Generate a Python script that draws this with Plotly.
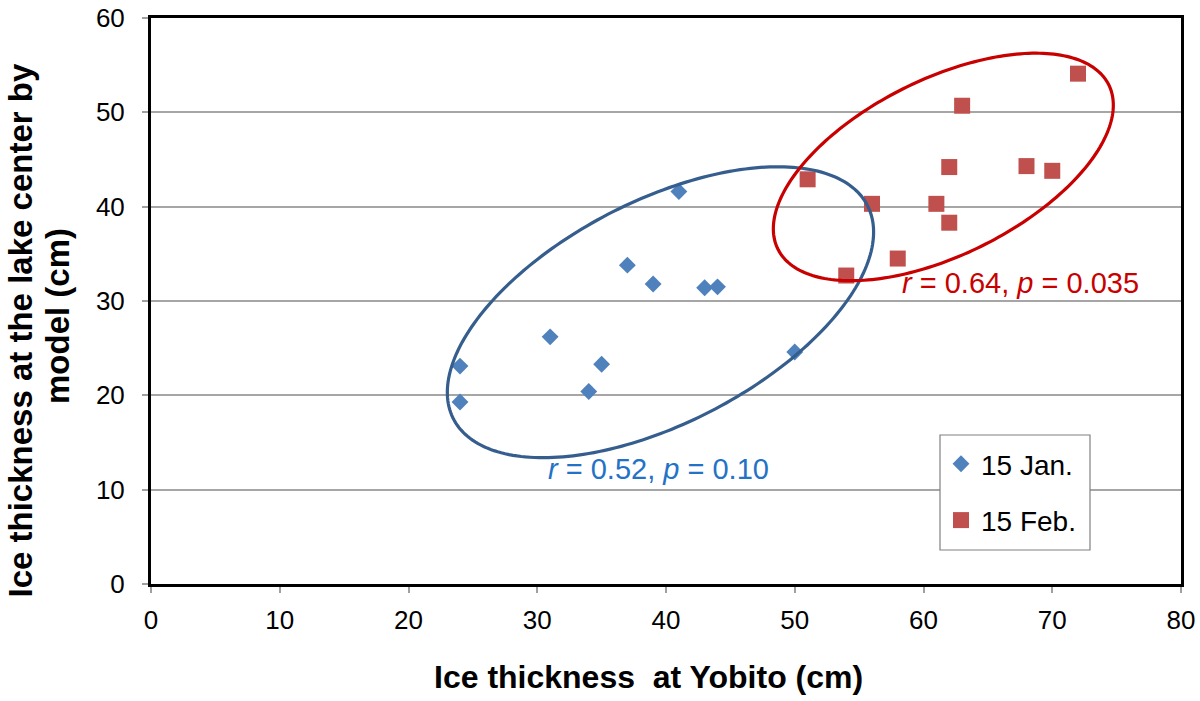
import numpy as np
import plotly.graph_objects as go

# ---- data ----
jan_x = [24, 24, 31, 34, 35, 37, 39, 41, 43, 44, 50]
jan_y = [23.1, 19.3, 26.2, 20.4, 23.3, 33.8, 31.8, 41.6, 31.4, 31.5, 24.6]
feb_x = [51, 54, 56, 58, 61, 62, 62, 63, 68, 70, 72]
feb_y = [42.9, 32.7, 40.3, 34.5, 40.3, 44.2, 38.3, 50.7, 44.3, 43.8, 54.1]
series_names = ["15 Jan.", "15 Feb."]
x_ticks = [0, 10, 20, 30, 40, 50, 60, 70, 80]
y_ticks = [0, 10, 20, 30, 40, 50, 60]
x_title = "Ice thickness  at Yobito (cm)"
y_title_1 = "Ice thickness at the lake center by"
y_title_2 = "model (cm)"
jan_label = "<i>r</i> = 0.52, <i>p</i> = 0.10"
feb_label = "<i>r</i> = 0.64, <i>p</i> = 0.035"

# ---- layout geometry (page body margin removed in post_script) ----
W, H = 1200, 701
ML, MR, MT, MB = 151, 19, 18, 117
PW, PH = W - ML - MR, H - MT - MB
XR, YR = [0, 80], [0, 60]
SX = PW / (XR[1] - XR[0])
SY = PH / (YR[1] - YR[0])

FONT = "Liberation Sans, Arial, sans-serif"
BLUE = "#4F81BD"
RED = "#C0504D"


def px(fx):
    return (fx - ML) / PW


def py(fy):
    return (H - MB - fy) / PH


def ellipse_path(cx, cy, a_px, b_px, ang_deg, n=240):
    t = np.linspace(0, 2 * np.pi, n)
    phi = np.radians(ang_deg)
    X = a_px * np.cos(phi) * np.cos(t) - b_px * np.sin(phi) * np.sin(t)
    Y = a_px * np.sin(phi) * np.cos(t) + b_px * np.cos(phi) * np.sin(t)
    xs = cx + X / SX
    ys = cy + Y / SY
    pts = [f"{x:.4f},{y:.4f}" for x, y in zip(xs, ys)]
    return "M " + " L ".join(pts) + " Z"


fig = go.Figure()
fig.add_trace(go.Scatter(
    x=jan_x, y=jan_y, mode="markers", name=series_names[0],
    marker=dict(symbol="diamond", size=13, color=BLUE, line=dict(width=0)),
    legendgroup="a",
))
fig.add_trace(go.Scatter(
    x=feb_x, y=feb_y, mode="markers", name=series_names[1],
    marker=dict(symbol="square", size=16, color=RED, line=dict(width=0)),
    legendgroup="b",
))

fig.add_shape(type="path", xref="x", yref="y",
              path=ellipse_path(39.57, 28.81, 232.9, 111.1, 27.3),
              line=dict(color="#355E8E", width=3.2))
fig.add_shape(type="path", xref="x", yref="y",
              path=ellipse_path(61.54, 44.21, 184.7, 87.9, 26.4),
              line=dict(color="#C80000", width=3.2))

# legend frame
fig.add_shape(type="rect", xref="paper", yref="paper", layer="above",
              x0=px(940), x1=px(1090), y0=py(550), y1=py(435),
              fillcolor="white", line=dict(color="#808080", width=1.2))

fig.add_annotation(x=39.4, y=12.15, xref="x", yref="y", text=jan_label,
                   showarrow=False, font=dict(family=FONT, size=29, color="#2372C6"))
fig.add_annotation(x=67.5, y=31.9, xref="x", yref="y", text=feb_label,
                   showarrow=False, font=dict(family=FONT, size=29, color="#C80000"))

# axis titles
fig.add_annotation(x=px(20), y=py(330.5), xref="paper", yref="paper",
                   xanchor="center", yanchor="middle",
                   text="<b>" + y_title_1 + "</b>", textangle=-90, showarrow=False,
                   font=dict(family=FONT, size=33, color="black"))
fig.add_annotation(x=px(57), y=py(316), xref="paper", yref="paper",
                   xanchor="center", yanchor="middle",
                   text="<b>" + y_title_2 + "</b>", textangle=-90, showarrow=False,
                   font=dict(family=FONT, size=33, color="black"))
fig.add_annotation(x=px(648), y=py(677), xref="paper", yref="paper",
                   xanchor="center", yanchor="middle",
                   text="<b>" + x_title + "</b>", showarrow=False,
                   font=dict(family=FONT, size=32, color="black"))

fig.update_layout(
    width=W, height=H,
    margin=dict(l=ML, r=MR, t=MT, b=MB, autoexpand=False),
    paper_bgcolor="white", plot_bgcolor="white",
    font=dict(family=FONT, size=26, color="black"),
    showlegend=True,
    legend=dict(
        x=px(941), y=py(439), xanchor="left", yanchor="top",
        bgcolor="rgba(0,0,0,0)", borderwidth=0,
        font=dict(family=FONT, size=28, color="black"),
        tracegroupgap=17, traceorder="grouped", itemwidth=30,
    ),
    xaxis=dict(
        range=XR, tickvals=x_ticks, ticktext=[str(v) for v in x_ticks],
        showgrid=False, zeroline=False, automargin=False,
        showline=True, linecolor="black", linewidth=3, mirror=True,
        ticks="outside", ticklen=6, tickwidth=1.5, tickcolor="#A0A0A0",
        ticklabelstandoff=5, ticklabeloverflow="allow",
        tickfont=dict(family=FONT, size=26, color="black"),
    ),
    yaxis=dict(
        range=YR, tickvals=y_ticks, ticktext=[str(v) for v in y_ticks],
        showgrid=True, gridcolor="#A6A6A6", gridwidth=1.5, zeroline=False,
        automargin=False,
        showline=True, linecolor="black", linewidth=3, mirror=True,
        ticks="outside", ticklen=6, tickwidth=1.5, tickcolor="#A0A0A0",
        ticklabelstandoff=12, ticklabeloverflow="allow",
        tickfont=dict(family=FONT, size=26, color="black"),
    ),
)

fig.write_html("out.html", config={"displayModeBar": False},
               post_script="document.body.style.margin='0';document.body.style.overflow='hidden';")
